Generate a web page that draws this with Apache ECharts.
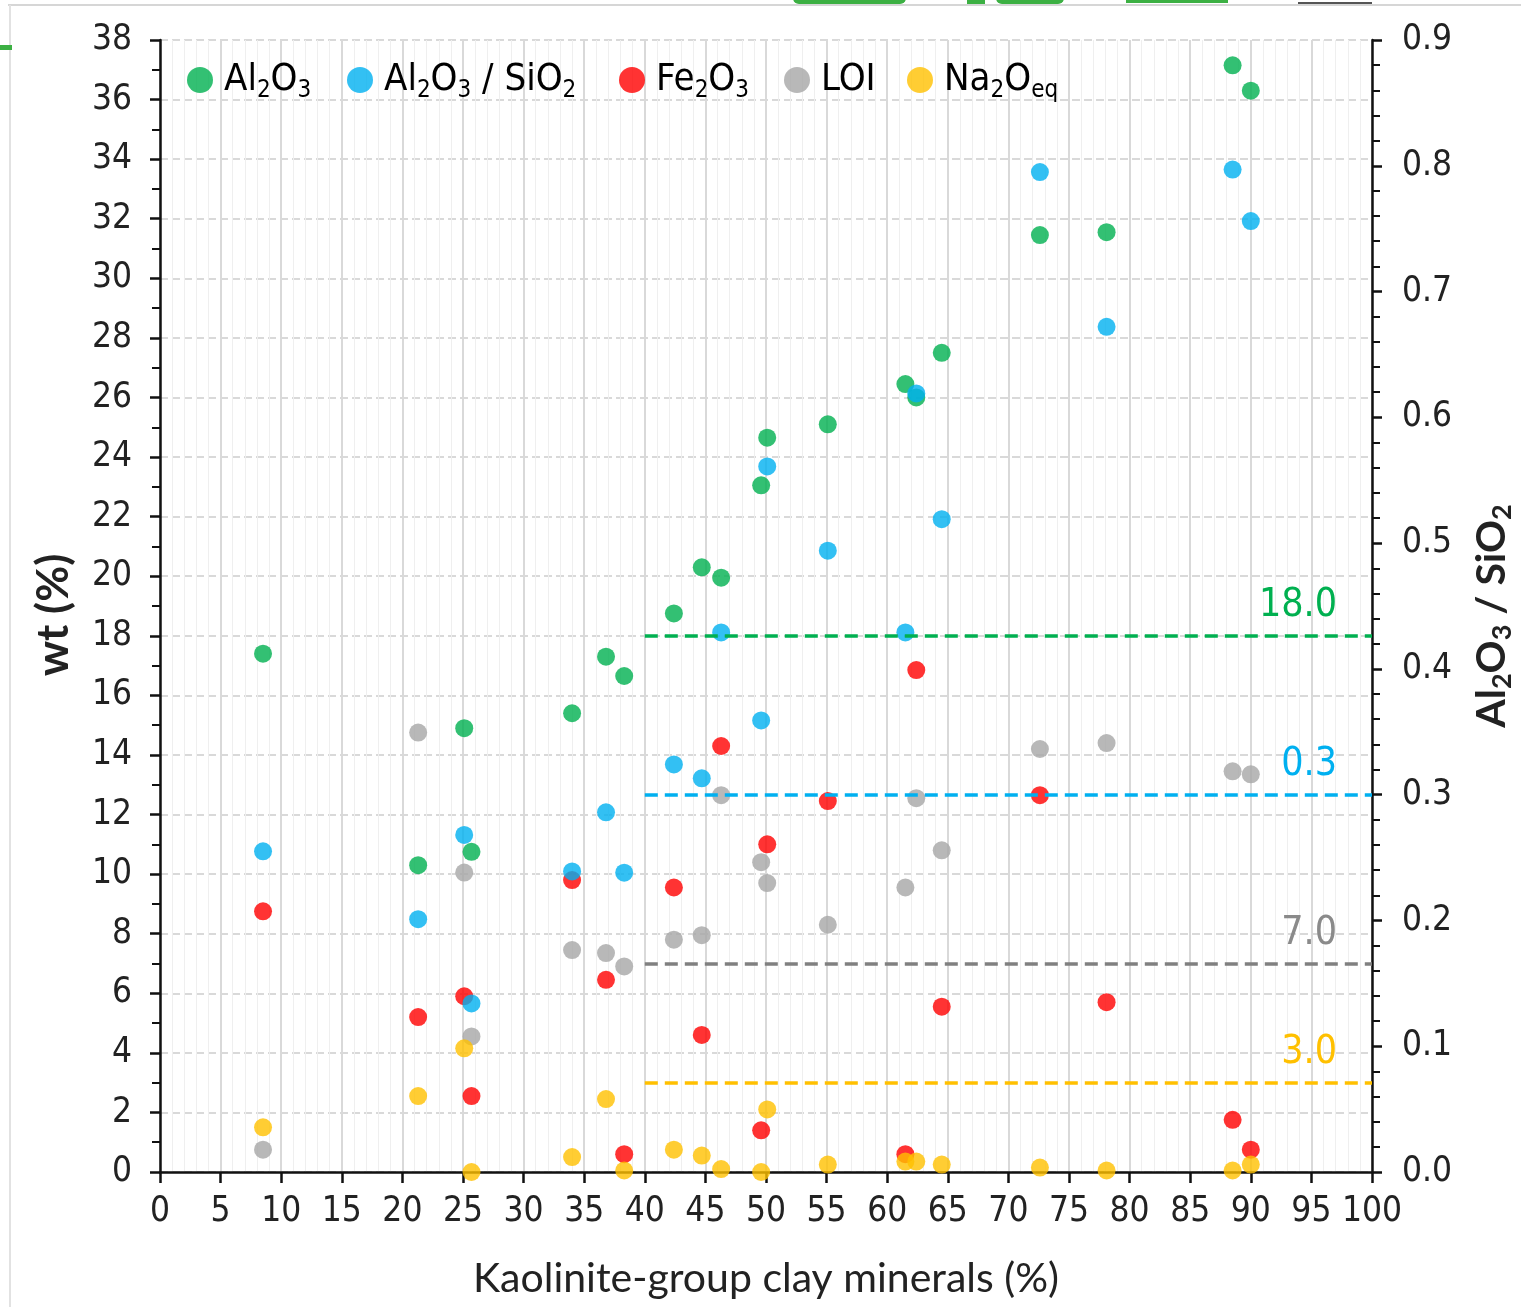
<!DOCTYPE html>
<html><head><meta charset="utf-8">
<script src="https://cdn.jsdelivr.net/npm/echarts@6/dist/echarts.min.js"></script>
<style>html,body{margin:0;padding:0;background:#fff}#c{width:1521px;height:1307px}</style>
</head><body><div id="c"></div>
<script>
// ---- data ----
const kaolinite = [8.5, 21.3, 25.1, 25.7, 34.0, 36.8, 38.3, 42.4, 44.7, 46.3, 49.6, 50.1, 55.1, 61.5, 62.4, 64.5, 72.6, 78.1, 88.5, 90.0];
const al2o3     = [17.4, 10.3, 14.9, 10.75, 15.4, 17.3, 16.65, 18.75, 20.3, 19.95, 23.05, 24.65, 25.1, 26.45, 26.0, 27.5, 31.45, 31.55, 37.15, 36.3];
const ratioAlSi = [0.255, 0.201, 0.268, 0.134, 0.239, 0.286, 0.238, 0.324, 0.313, 0.429, 0.359, 0.561, 0.494, 0.429, 0.619, 0.519, 0.795, 0.672, 0.797, 0.756];
const fe2o3     = [8.75, 5.2, 5.9, 2.55, 9.8, 6.45, 0.6, 9.55, 4.6, 14.3, 1.4, 11.0, 12.45, 0.6, 16.85, 5.55, 12.65, 5.7, 1.75, 0.75];
const loi       = [0.75, 14.75, 10.05, 4.55, 7.45, 7.35, 6.9, 7.8, 7.95, 12.65, 10.4, 9.7, 8.3, 9.55, 12.55, 10.8, 14.2, 14.4, 13.45, 13.35];
const na2oeq    = [1.5, 2.55, 4.15, 0.0, 0.5, 2.45, 0.05, 0.75, 0.55, 0.1, 0.0, 2.1, 0.25, 0.35, 0.35, 0.25, 0.15, 0.05, 0.05, 0.25];

const seriesNames = ['Al2O3', 'Al2O3 / SiO2', 'Fe2O3', 'LOI', 'Na2Oeq'];
const seriesColors = ['#00b050', '#00b0f0', '#ff0000', '#a6a6a6', '#ffc000'];
// threshold lines: value, label
const thresholdValues = [18.0, 0.3, 7.0, 3.0];
const thresholdLabels = ['18.0', '0.3', '7.0', '3.0'];
const thresholdStartX = 40, thresholdEndX = 100;

const xTicks = { min: 0, max: 100, interval: 5 };
const yLeftTicks = { min: 0, max: 38, interval: 2 };
const yRightTicks = { min: 0, max: 0.9, interval: 0.1 };

const pairs = v => kaolinite.map((x, i) => [x, v[i]]);

const NARROW = "'Liberation Sans Narrow', 'DejaVu Sans Condensed', sans-serif";
const ROUND = "'Lato', sans-serif";

const richSub = {
  n: { fontFamily: NARROW, fontSize: 38, color: '#000' },
  s: { fontFamily: NARROW, fontSize: 24, color: '#000', padding: [22, 0, 0, 0] }
};
const legendLabel = {
  'Al2O3': '{n|Al}{s|2}{n|O}{s|3}',
  'Al2O3 / SiO2': '{n|Al}{s|2}{n|O}{s|3}{n| / SiO}{s|2}',
  'Fe2O3': '{n|Fe}{s|2}{n|O}{s|3}',
  'LOI': '{n|LOI}',
  'Na2Oeq': '{n|Na}{s|2}{n|O}{s|eq}'
};
const legendLeft = [187, 347, 619, 784, 907];

const legends = seriesNames.map((nm, i) => ({
  data: [nm], left: legendLeft[i], top: 61, icon: 'circle', itemWidth: 26, itemHeight: 26,
  selectedMode: false, padding: 0,
  formatter: n => legendLabel[n],
  textStyle: { rich: richSub, padding: [0, 0, 0, 6] }
}));

function thresholdLine(i, color, labelColor) {
  return {
    silent: true, symbol: ['none', 'none'], animation: false,
    lineStyle: { color: color, type: [13, 7], width: 3.5 },
    label: {
      show: true, position: 'insideEndTop', distance: [35, 10],
      formatter: thresholdLabels[i], color: labelColor,
      fontFamily: NARROW, fontSize: 39
    },
    data: [[{ coord: [thresholdStartX, thresholdValues[i]] }, { coord: [thresholdEndX, thresholdValues[i]] }]]
  };
}

const chart = echarts.init(document.getElementById('c'), null, { renderer: 'canvas' });
chart.setOption({
  animation: false,
  backgroundColor: '#fff',
  legend: legends,
  graphic: [
    { type: 'line', shape: { x1: 8, y1: 5, x2: 1521, y2: 5 }, style: { stroke: '#d6d6d6', lineWidth: 2 } },
    { type: 'line', shape: { x1: 10, y1: 5, x2: 10, y2: 1307 }, style: { stroke: '#e2e2e2', lineWidth: 2 } },
    { type: 'rect', shape: { x: 0, y: 45, width: 12, height: 5 }, style: { fill: '#3cb043' } },
    { type: 'rect', shape: { x: 793, y: -8, width: 113, height: 12, r: 6 }, style: { fill: '#3cb043' } },
    { type: 'rect', shape: { x: 967, y: -8, width: 18, height: 12 }, style: { fill: '#3cb043' } },
    { type: 'rect', shape: { x: 996, y: -8, width: 68, height: 12, r: 6 }, style: { fill: '#3cb043' } },
    { type: 'rect', shape: { x: 1126, y: -8, width: 102, height: 11 }, style: { fill: '#3cb043' } },
    { type: 'line', shape: { x1: 1298, y1: 3, x2: 1372, y2: 3 }, style: { stroke: '#555', lineWidth: 2 } }
  ],
  grid: { left: 160, right: 149, top: 40, bottom: 135, containLabel: false, outerBoundsMode: 'none' },
  xAxis: {
    type: 'value', min: xTicks.min, max: xTicks.max, interval: xTicks.interval,
    name: 'Kaolinite-group clay minerals (%)', nameLocation: 'middle', nameGap: 86,
    nameTextStyle: { fontFamily: ROUND, fontSize: 41, color: '#222' },
    axisLine: { show: true, onZero: false, lineStyle: { color: '#111', width: 2.5 } },
    axisTick: { show: true, inside: false, length: 11, lineStyle: { color: '#111', width: 2.5 } },
    axisLabel: { fontFamily: NARROW, fontSize: 35, color: '#222', margin: 22 },
    splitLine: { show: true, lineStyle: { color: '#d9d9d9', width: 2 } },
    minorTick: { show: false, splitNumber: 5 },
    minorSplitLine: { show: true, lineStyle: { color: '#efefef', width: 1 } }
  },
  yAxis: [
    {
      type: 'value', min: yLeftTicks.min, max: yLeftTicks.max, interval: yLeftTicks.interval, position: 'left',
      name: 'wt (%)', nameLocation: 'middle', nameGap: 84, nameRotate: 90,
      nameTextStyle: { fontFamily: ROUND, fontSize: 44, fontWeight: 'bold', color: '#222', padding: [0, 18, 0, 0] },
      axisLine: { show: true, lineStyle: { color: '#111', width: 2.5 } },
      axisTick: { show: true, inside: false, length: 10, lineStyle: { color: '#111', width: 2.5 } },
      minorTick: { show: true, splitNumber: 2, length: 8, lineStyle: { color: '#111', width: 2 } },
      axisLabel: { fontFamily: NARROW, fontSize: 35, color: '#222', margin: 28 },
      splitLine: { show: true, lineStyle: { color: '#d9d9d9', width: 2, type: [8, 4] } }
    },
    {
      type: 'value', min: yRightTicks.min, max: yRightTicks.max, interval: yRightTicks.interval, position: 'right',
      name: '{n|Al}{s|2}{n|O}{s|3}{n| / SiO}{s|2}', nameLocation: 'middle', nameGap: 95, nameRotate: 90,
      nameTextStyle: {
        padding: [0, 20, 0, 0],
        rich: {
          n: { fontFamily: ROUND, fontSize: 41, fontWeight: 'bold', color: '#222' },
          s: { fontFamily: ROUND, fontSize: 27, fontWeight: 'bold', color: '#222', padding: [22, 0, 0, 0] }
        }
      },
      axisLine: { show: true, lineStyle: { color: '#111', width: 2.5 } },
      axisTick: { show: true, inside: false, length: 10, lineStyle: { color: '#111', width: 2.5 } },
      minorTick: { show: true, splitNumber: 5, length: 8, lineStyle: { color: '#111', width: 2 } },
      axisLabel: { fontFamily: NARROW, fontSize: 35, color: '#222', margin: 30, formatter: v => v.toFixed(1) },
      splitLine: { show: false }
    }
  ],
  series: [
    { name: 'Al2O3', type: 'scatter', yAxisIndex: 0, data: pairs(al2o3), symbolSize: 18,
      itemStyle: { color: seriesColors[0] }, markLine: thresholdLine(0, '#00b050', '#00b050') },
    { name: 'Fe2O3', type: 'scatter', yAxisIndex: 0, data: pairs(fe2o3), symbolSize: 18,
      itemStyle: { color: seriesColors[2] } },
    { name: 'LOI', type: 'scatter', yAxisIndex: 0, data: pairs(loi), symbolSize: 18,
      itemStyle: { color: seriesColors[3] }, markLine: thresholdLine(2, '#808080', '#8a8a8a') },
    { name: 'Na2Oeq', type: 'scatter', yAxisIndex: 0, data: pairs(na2oeq), symbolSize: 18,
      itemStyle: { color: seriesColors[4] }, markLine: thresholdLine(3, '#ffc000', '#ffc000') },
    { name: 'Al2O3 / SiO2', type: 'scatter', yAxisIndex: 1, data: pairs(ratioAlSi), symbolSize: 18,
      itemStyle: { color: seriesColors[1] }, markLine: thresholdLine(1, '#00b0f0', '#00b0f0') }
  ]
});
</script>
</body></html>
